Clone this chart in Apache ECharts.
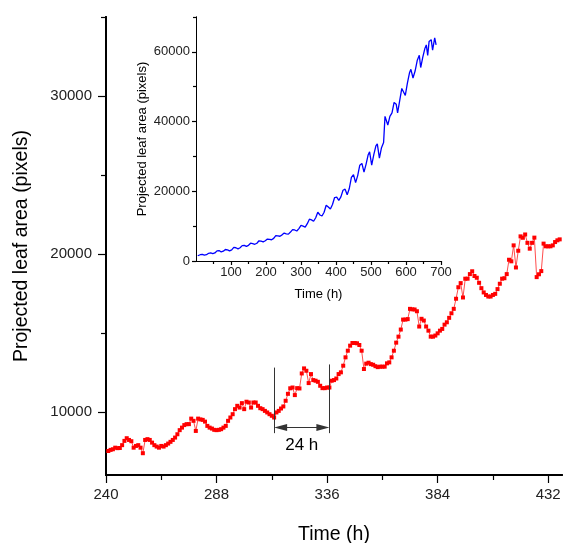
<!DOCTYPE html>
<html>
<head>
<meta charset="utf-8">
<script src="https://cdn.jsdelivr.net/npm/echarts@6.0.0/dist/echarts.min.js"></script>
<style>
  html, body { margin: 0; padding: 0; background: #fff; }
  #chart { width: 564px; height: 543px; }
</style>
</head>
<body>
<div id="chart"></div>
<script>
// main plot: hourly projected leaf area, first reading at 241 h
const firstHour = 241;
const leafArea = [
  7520, 7590, 7630, 7730, 7700, 7710, 7890, 8160, 8330, 8220,
  8140, 7730, 7840, 7890, 7730, 7380, 8220, 8270, 8220, 8050,
  7890, 7800, 7730, 7840, 7800, 7890, 7990, 8100, 8220, 8370,
  8580, 8840, 9000, 9160, 9220, 9220, 9570, 9430, 8790, 9570,
  9520, 9490, 9380, 9110, 9000, 8940, 8860, 8840, 8860, 8900,
  9000, 9110, 9430, 9640, 9850, 10170, 10380, 10270, 10550, 10170,
  10640, 10590, 10270, 10590, 10590, 10380, 10230, 10170, 10060, 9960,
  9850, 9750, 9640, 9960, 10060, 10210, 10340, 10700, 11140, 11490,
  11540, 11060, 11500, 11480, 12430, 12750, 12600, 11820, 12390, 12010,
  11970, 11900, 11650, 11500, 11500, 11540, 11540, 11970, 12010, 12110,
  12390, 12500, 12920, 13450, 13870, 14190, 14360, 14360, 14340, 14230,
  13870, 12710, 13050, 13110, 13020, 12980, 12890, 12830, 12860, 12860,
  12860, 13070, 13130, 13450, 13870, 14380, 14760, 15210, 15840, 15840,
  15870, 16520, 16490, 16480, 16370, 15400, 15890, 15780, 15400, 15140,
  14760, 14760, 14830, 14970, 15140, 15250, 15520, 15670, 15950, 16240,
  16520, 17160, 17890, 18150, 17240, 18430, 18430, 18720, 18900, 18600,
  18490, 18170, 17830, 17560, 17400, 17300, 17300, 17400, 17470, 17770,
  18110, 18430, 18460, 18720, 19630, 19530, 20540, 19140, 20200, 21110,
  21020, 21230, 20700, 20330, 20700, 21030, 18530, 18710, 18910, 20650,
  20480, 20480, 20480, 20540, 20750, 20860, 20920
];

// inset: whole experiment
const insetHours = [
  5, 12, 18, 24, 30, 36, 42, 48, 54, 60, 66, 72, 78, 84, 90, 96,
  102, 108, 114, 120, 126, 132, 138, 144, 150, 156, 162, 168, 174, 180,
  186, 192, 198, 204, 210, 216, 222, 228, 234, 240, 246, 252, 258, 264,
  270, 276, 282, 288, 294, 300, 306, 312, 318, 324, 330, 336, 342, 348,
  354, 360, 366, 372, 378, 384, 390, 396, 402, 408, 414, 420, 426, 432,
  438, 444, 450, 456, 462, 468, 474, 480, 486, 492, 496, 502, 508, 514,
  518, 524, 530, 536, 540, 544, 548, 554, 560, 566, 572, 576, 582, 588,
  592, 598, 604, 610, 614, 620, 626, 632, 638, 642, 648, 654, 658, 662,
  666, 672, 676, 682, 686
];
const insetArea = [
  1500, 1800, 1900, 1700, 1800, 2200, 2300, 2100, 2300, 2900, 3000, 2600, 2800, 3300, 3200, 2900,
  3200, 3900, 3800, 3500, 3800, 4400, 4500, 4200, 4500, 5100, 5000, 4800, 5100, 5800,
  5700, 5500, 5800, 6300, 6200, 6100, 6500, 7300, 7200, 7100, 7500, 8000, 7800, 7700,
  8300, 9000, 8900, 8600, 9300, 10200, 10000, 9700, 10700, 12000, 11800, 11400, 12400, 14000,
  13200, 12900, 14000, 16000, 15500, 14900, 16200, 18200, 18300, 17400, 18400, 20300, 20600, 19000,
  20800, 24000, 24800, 22500, 24500, 27500, 28000, 25500, 27800, 30500, 31300, 27500, 30500, 33000,
  33600, 29500, 32500, 34000, 41500, 41000, 39000, 41500, 42500, 45500, 45000, 42500, 46000, 49500,
  50000, 47500, 51000, 54000, 55000, 52500, 54500, 57500, 59000, 55500, 58500, 61000, 62000, 59000,
  63000, 63500, 60500, 64000, 62000
];

// tick labels
const mainXTicks = [240, 288, 336, 384, 432];
const mainXMinor = [264, 312, 360, 408];
const mainYTicks = [10000, 20000, 30000];
const mainYMinor = [15000, 25000, 35000];
const insetXTicks = [100, 200, 300, 400, 500, 600, 700];
const insetXMinor = [50, 150, 250, 350, 450, 550, 650];
const insetYTicks = [0, 20000, 40000, 60000];
const insetYMinor = [10000, 30000, 50000, 70000];

// 24 h bracket
const spanStart = 313;
const spanEnd = 337;
const spanLabel = '24 h';

const FONT = 'Liberation Sans, Arial, sans-serif';
const plain = v => String(v);

const chart = echarts.init(document.getElementById('chart'));

const axisBase = (lineWidth, fontSize) => ({
  type: 'value',
  splitLine: { show: false },
  axisLine: { show: true, lineStyle: { color: '#000', width: lineWidth } },
  axisLabel: { color: '#222', fontSize: fontSize, fontFamily: FONT, formatter: plain },
  nameTextStyle: { color: '#000', fontFamily: FONT }
});

const majorAxis = (base, ticks, len, extra) => Object.assign({}, base, {
  axisTick: { show: true, inside: false, length: len, customValues: ticks, lineStyle: { color: '#000', width: 1.2 } },
  axisLabel: Object.assign({}, base.axisLabel, { customValues: ticks })
}, extra);

const minorAxis = (base, ticks, len, extra) => Object.assign({}, base, {
  axisTick: { show: true, inside: false, length: len, customValues: ticks, lineStyle: { color: '#000', width: 1.2 } },
  axisLabel: { show: false }
}, extra);

const mainX = axisBase(2, 15);
const mainY = axisBase(2, 15);
const inX = axisBase(1, 13);
const inY = axisBase(1, 13);

// arrow heads sit inside the bracket, tips touching the lines
const headLen = 13;
const headHours = headLen / 2 / 2.307;

const option = {
  animation: false,
  backgroundColor: '#fff',
  grid: [
    { left: 106, right: 2, top: 17, bottom: 68, outerBoundsMode: 'none', containLabel: false },
    { left: 196, top: 17, width: 245, height: 244, outerBoundsMode: 'none', containLabel: false }
  ],
  xAxis: [
    majorAxis(mainX, mainXTicks, 8, {
      gridIndex: 0, position: 'bottom', min: 240, max: 438,
      axisLabel: Object.assign({}, mainX.axisLabel, { customValues: mainXTicks, margin: 12 }),
      name: 'Time (h)', nameLocation: 'middle', nameGap: 50,
      nameTextStyle: { color: '#000', fontFamily: FONT, fontSize: 19.5 }
    }),
    minorAxis(mainX, mainXMinor, 5, { gridIndex: 0, position: 'bottom', min: 240, max: 438 }),
    majorAxis(inX, insetXTicks, 4, {
      gridIndex: 1, position: 'bottom', min: 0, max: 700,
      axisLabel: Object.assign({}, inX.axisLabel, { customValues: insetXTicks, margin: 5 }),
      name: 'Time (h)', nameLocation: 'middle', nameGap: 27,
      nameTextStyle: { color: '#000', fontFamily: FONT, fontSize: 13 }
    }),
    minorAxis(inX, insetXMinor, 3, { gridIndex: 1, position: 'bottom', min: 0, max: 700 })
  ],
  yAxis: [
    majorAxis(mainY, mainYTicks, 8, {
      gridIndex: 0, position: 'left', min: 6000, max: 35000,
      axisLabel: Object.assign({}, mainY.axisLabel, { customValues: mainYTicks, margin: 14 }),
      name: 'Projected leaf area (pixels)', nameLocation: 'middle', nameGap: 74,
      nameTextStyle: { color: '#000', fontFamily: FONT, fontSize: 19.5 }
    }),
    minorAxis(mainY, mainYMinor, 5, { gridIndex: 0, position: 'left', min: 6000, max: 35000 }),
    majorAxis(inY, insetYTicks, 4, {
      gridIndex: 1, position: 'left', min: 0, max: 70000,
      axisLabel: Object.assign({}, inY.axisLabel, { customValues: insetYTicks, margin: 6 }),
      name: 'Projected leaf area (pixels)', nameLocation: 'middle', nameGap: 47,
      nameTextStyle: { color: '#000', fontFamily: FONT, fontSize: 13 }
    }),
    minorAxis(inY, insetYMinor, 3, { gridIndex: 1, position: 'left', min: 0, max: 70000 })
  ],
  series: [
    {
      type: 'line',
      xAxisIndex: 0,
      yAxisIndex: 0,
      data: leafArea.map((v, i) => [firstHour + i, v]),
      symbol: 'rect',
      symbolSize: 4,
      itemStyle: { color: '#ff0000' },
      lineStyle: { color: '#ff4d4d', width: 1 },
      emphasis: { disabled: true },
      markLine: {
        silent: true,
        symbol: 'none',
        label: { show: false },
        lineStyle: { color: '#333', width: 1, type: 'solid' },
        emphasis: { disabled: true },
        data: [
          [{ coord: [spanStart, 8650] }, { coord: [spanStart, 12800] }],
          [{ coord: [spanEnd, 8650] }, { coord: [spanEnd, 13000] }],
          [
            { coord: [spanStart + headHours, 9000], symbol: 'triangle', symbolSize: [7, headLen] },
            { coord: [spanEnd - headHours, 9000], symbol: 'triangle', symbolSize: [7, headLen] }
          ]
        ]
      },
      markPoint: {
        silent: true,
        symbol: 'circle',
        symbolSize: 1,
        itemStyle: { color: 'rgba(0,0,0,0)' },
        label: {
          show: true, position: 'inside', formatter: spanLabel,
          color: '#000', fontSize: 17, fontFamily: FONT
        },
        data: [{ coord: [(spanStart + spanEnd) / 2, 7900] }]
      }
    },
    {
      type: 'line',
      xAxisIndex: 2,
      yAxisIndex: 2,
      data: insetHours.map((h, i) => [h, insetArea[i]]),
      showSymbol: false,
      symbol: 'none',
      lineStyle: { color: '#0000ff', width: 1.3 },
      emphasis: { disabled: true }
    }
  ]
};

chart.setOption(option);
</script>
</body>
</html>
